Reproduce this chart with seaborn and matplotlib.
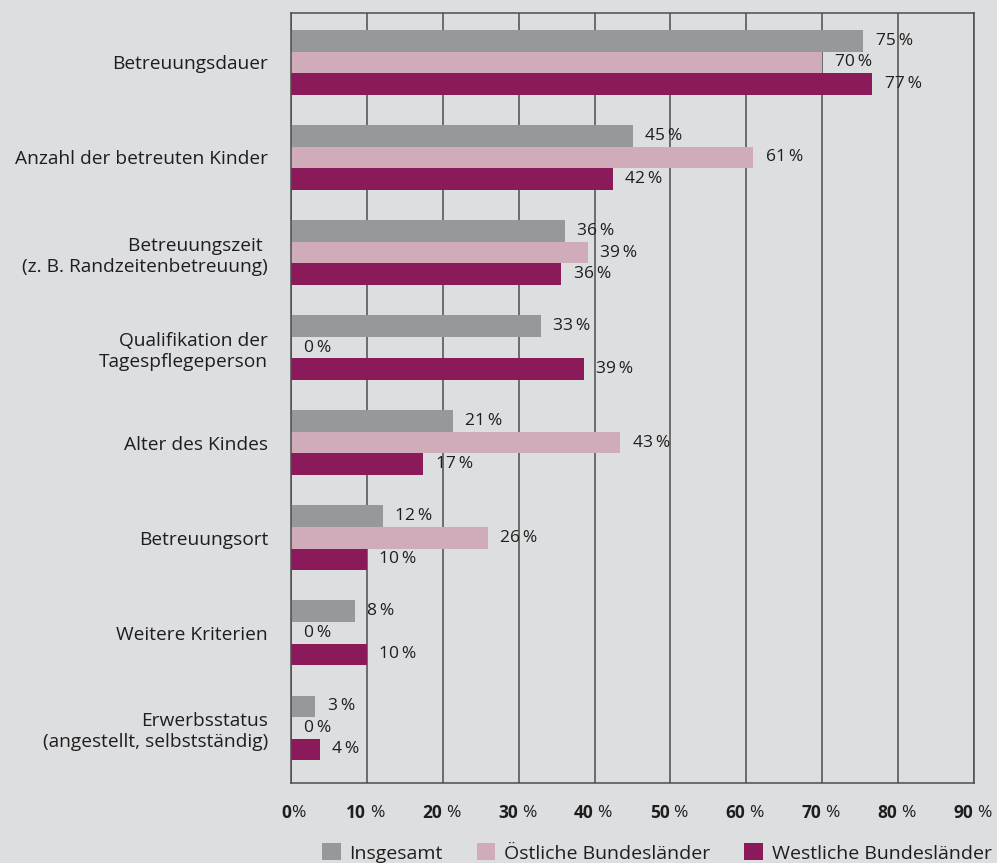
import matplotlib
matplotlib.use("Agg")
import matplotlib.pyplot as plt
from matplotlib.patches import Patch
import matplotlib.transforms as mtransforms
import seaborn as sns
import pandas as pd

categories = [
    "Betreuungsdauer",
    "Anzahl der betreuten Kinder",
    "Betreuungszeit \n(z. B. Randzeitenbetreuung)",
    "Qualifikation der\nTagespflegeperson",
    "Alter des Kindes",
    "Betreuungsort",
    "Weitere Kriterien",
    "Erwerbsstatus\n(angestellt, selbstständig)",
]
series_names = ["Insgesamt", "Östliche Bundesländer", "Westliche Bundesländer"]
insgesamt = [75.4, 45.0, 36.1, 32.9, 21.3, 12.1, 8.4, 3.2]
oestlich = [70.0, 60.9, 39.1, 0.0, 43.4, 25.9, 0.0, 0.0]
westlich = [76.6, 42.4, 35.6, 38.6, 17.4, 10.0, 10.0, 3.8]
x_ticks = [0, 10, 20, 30, 40, 50, 60, 70, 80, 90]

colors = ["#97989b", "#d0acba", "#8b1a5a"]
bg = "#dddee0"
grid_c = "#4d4d4d"
txt_c = "#1e1e1e"

df = pd.DataFrame({
    "Kategorie": categories * 3,
    "Gruppe": [series_names[0]] * 8 + [series_names[1]] * 8 + [series_names[2]] * 8,
    "Wert": insgesamt + oestlich + westlich,
})

sns.set_theme(style="white")
plt.rcParams["font.family"] = ["Open Sans", "DejaVu Sans"]

fig = plt.figure(figsize=(9.97, 8.63), dpi=100, facecolor=bg)
ax = fig.add_axes([291 / 997, 1 - 783 / 863, 683 / 997, 770 / 863])
ax.set_facecolor(bg)

sns.barplot(data=df, y="Kategorie", x="Wert", hue="Gruppe", order=categories,
            hue_order=series_names, palette=colors, orient="h", width=0.68,
            saturation=1, legend=False, ax=ax, linewidth=0)

ax.set_xlim(0, 90)
ax.set_ylim(7.58, -0.52)
ax.set_xlabel("")
ax.set_ylabel("")
ax.set_xticks(x_ticks)
ax.set_xticklabels([])
ax.tick_params(axis="x", length=0)
ax.tick_params(axis="y", length=0, pad=16.5, labelsize=13.8, labelcolor=txt_c)
for lab in ax.get_yticklabels():
    lab.set_horizontalalignment("right")
    lab.set_linespacing(1.25)

for xv in x_ticks:
    ax.axvline(xv, color=grid_c, lw=1.1, zorder=0)
for s in ax.spines.values():
    s.set_color(grid_c)
    s.set_linewidth(1.1)
ax.set_axisbelow(True)

# value labels
for container in ax.containers:
    for patch in container:
        w = patch.get_width()
        y = patch.get_y() + patch.get_height() / 2
        ax.annotate(f"{round(w)}\u2009%", xy=(w, y), xytext=(9, 0),
                    textcoords="offset points", ha="left", va="center",
                    fontsize=12.5, color=txt_c)

# x tick labels: bold number + regular percent sign
trans = mtransforms.blended_transform_factory(ax.transData, fig.transFigure)
ty = 1 - 813 / 863
for xv in x_ticks:
    if xv == 0:
        ax.text(xv, ty, "0", transform=trans, ha="right", va="center",
                fontsize=12.5, fontweight="bold", color=txt_c)
        ax.text(xv, ty, "%", transform=trans, ha="left", va="center",
                fontsize=12.5, color=txt_c)
    else:
        t1 = mtransforms.offset_copy(trans, fig=fig, x=-1, y=0, units="dots")
        t2 = mtransforms.offset_copy(trans, fig=fig, x=3, y=0, units="dots")
        ax.text(xv, ty, str(xv), transform=t1, ha="right", va="center",
                fontsize=12.5, fontweight="bold", color=txt_c)
        ax.text(xv, ty, "%", transform=t2, ha="left", va="center",
                fontsize=12.5, color=txt_c)

handles = [Patch(facecolor=c, edgecolor="none") for c in colors]
fig.legend(handles, series_names, loc="center", bbox_to_anchor=(0.659, 1 - 853 / 863),
           ncol=3, frameon=False, fontsize=14, handlelength=0.95, handleheight=0.95,
           handletextpad=0.45, columnspacing=1.75, labelcolor=txt_c,
           borderpad=0, borderaxespad=0)

fig.savefig("out.png", dpi=100, facecolor=bg)
